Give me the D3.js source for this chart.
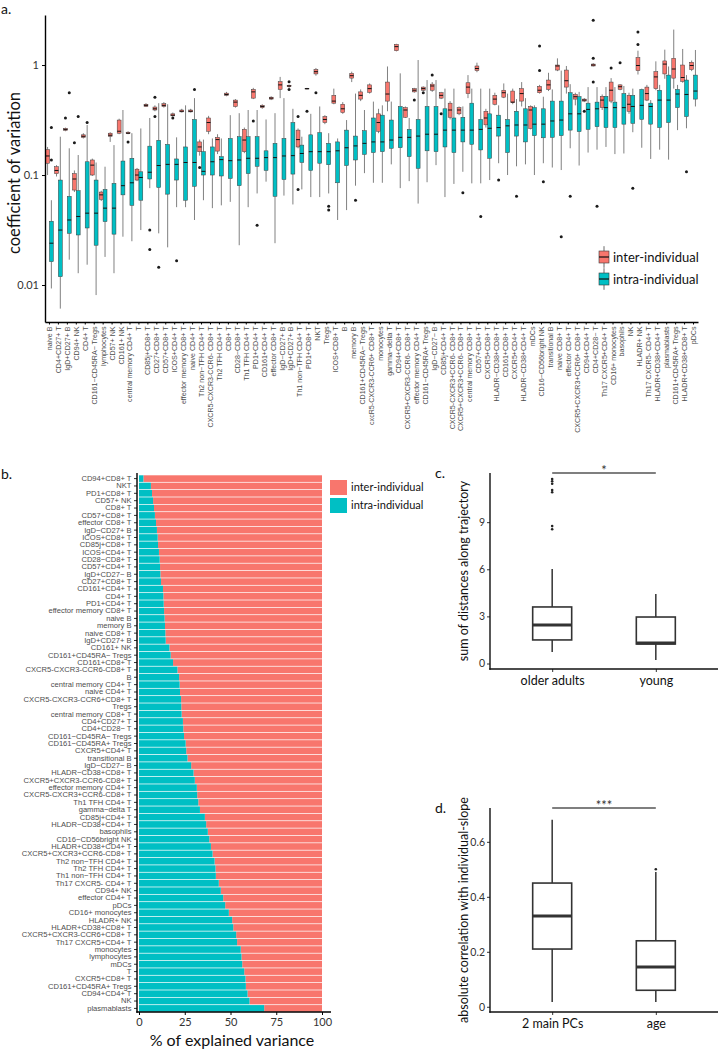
<!DOCTYPE html>
<html><head><meta charset="utf-8">
<script src="https://cdn.jsdelivr.net/npm/d3@7"></script>
<style>body{margin:0;background:#fff}svg{display:block}</style>
</head><body><svg id="chart" width="721" height="1050"></svg>
<script>
// ---------- Panel a data ----------
const cellTypesA = ["naive B","CD4+CD27+ T","IgD+CD27+ B","CD94+ NK","CD4+ T","CD161\u2212CD45RA\u2212 Tregs","lymphocytes","CD57+ NK","CD161+ NK","central memory CD4+ T","T","CD85j+CD8+ T","CD27+CD8+ T","CD57+CD8+ T","ICOS+CD4+ T","effector memory CD8+ T","naive CD4+ T","Th2 non\u2212TFH CD4+ T","CXCR5-CXCR3-CCR6- CD8+ T","Th2 TFH CD4+ T","CD8+ T","CD28\u2212CD8+ T","Th1 TFH CD4+ T","PD1+CD4+ T","CD161+CD4+ T","effector CD8+ T","IgD\u2212CD27+ B","IgD+CD27+ B ","Th1 non\u2212TFH CD4+ T","PD1+CD8+ T","NKT","Tregs","ICOS+CD8+ T","B","memory B","CD161+CD45RA\u2212 Tregs","cxcR5-CXCR3-CCR6+ CD8+ T","monocytes","gamma\u2212delta T","CD94+CD8+ T","CXCR5+CXCR3-CCR6- CD8+ T","effector memory CD4+ T","CD161\u2212CD45RA+ Tregs","IgD\u2212CD27\u2212 B","CD85j+CD4+ T","CXCR5-CXCR3+CCR6- CD8+ T","CXCR5+CXCR3+CCR6- CD8+ T","central memory CD8+ T","CD57+CD4+ T","CXCR5+CD8+ T","HLADR\u2212CD38+CD8+ T","CD161+CD8+ T","CXCR5+CD4+ T","HLADR\u2212CD38+CD4+ T","mDCs","CD16\u2212CD56bright NK","transitional B","naive CD8+ T","effector CD4+ T","CXCR5+CXCR3+CCR6+ CD8+ T","CD94+CD4+ T","CD4+CD28\u2212 T","Th17 CXCR5+CD4+ T","CD16+ monocytes","basophils","NK","HLADR+ NK","Th17 CXCR5- CD4+ T","HLADR+CD38+CD4+ T","plasmablasts","CD161+CD45RA+ Tregs","HLADR+CD38+CD8+ T","pDCs"];
// [lower whisker, q1, median, q3, upper whisker]
const interStats = [[0.10,0.128,0.149,0.17,0.18],[0.097,0.103,0.11,0.119,0.123],[0.25,0.255,0.26,0.265,0.27],[0.07,0.073,0.092,0.103,0.11],[0.215,0.22,0.225,0.232,0.24],[0.098,0.1,0.123,0.137,0.141],[0.058,0.06,0.066,0.07,0.072],[0.2,0.225,0.23,0.24,0.245],[0.235,0.24,0.25,0.316,0.325],[0.235,0.238,0.24,0.245,0.25],[0.088,0.09,0.1,0.113,0.116],[0.415,0.42,0.43,0.44,0.45],[0.38,0.39,0.40,0.415,0.43],[0.41,0.42,0.43,0.445,0.46],[0.34,0.345,0.35,0.36,0.37],[0.37,0.375,0.38,0.39,0.4],[0.37,0.375,0.38,0.39,0.4],[0.15,0.163,0.18,0.2,0.21],[0.235,0.25,0.3,0.33,0.345],[0.155,0.165,0.21,0.22,0.235],[0.52,0.53,0.54,0.555,0.57],[0.41,0.42,0.46,0.48,0.49],[0.158,0.163,0.208,0.26,0.27],[0.49,0.5,0.57,0.6,0.62],[0.40,0.41,0.42,0.43,0.44],[0.48,0.49,0.5,0.51,0.52],[0.5,0.6,0.66,0.705,0.78],[0.62,0.635,0.645,0.655,0.665],[0.175,0.18,0.21,0.256,0.265],[0.6,0.605,0.61,0.615,0.62],[0.8,0.83,0.87,0.91,0.94],[0.29,0.3,0.32,0.34,0.35],[0.44,0.45,0.47,0.53,0.61],[0.36,0.37,0.40,0.44,0.46],[0.7,0.76,0.8,0.84,0.87],[0.47,0.49,0.53,0.57,0.6],[0.55,0.565,0.61,0.66,0.68],[0.24,0.25,0.3,0.36,0.4],[0.38,0.47,0.545,0.7,0.97],[1.33,1.35,1.47,1.54,1.56],[0.33,0.335,0.39,0.41,0.42],[0.56,0.57,0.59,0.61,0.62],[0.58,0.59,0.61,0.63,0.64],[0.57,0.59,0.645,0.67,0.7],[0.49,0.5,0.53,0.56,0.57],[0.32,0.335,0.39,0.45,0.47],[0.35,0.36,0.39,0.41,0.42],[0.5,0.55,0.63,0.69,0.81],[0.86,0.89,0.93,0.98,1.05],[0.27,0.286,0.33,0.38,0.4],[0.43,0.44,0.49,0.53,0.56],[0.5,0.51,0.56,0.59,0.68],[0.44,0.455,0.46,0.58,0.61],[0.42,0.47,0.55,0.61,0.7],[0.26,0.265,0.39,0.42,0.43],[0.55,0.56,0.59,0.64,0.66],[0.58,0.6,0.66,0.73,0.85],[0.88,0.9,0.98,1.0,1.15],[0.55,0.63,0.72,0.9,0.98],[0.43,0.49,0.515,0.54,0.56],[0.46,0.47,0.48,0.49,0.5],[0.97,0.98,1.0,1.02,1.04],[0.39,0.41,0.48,0.52,0.54],[0.45,0.47,0.59,0.7,0.76],[0.59,0.6,0.635,0.66,0.67],[0.36,0.38,0.44,0.53,0.56],[0.82,0.89,0.99,1.17,1.35],[0.47,0.48,0.55,0.63,0.66],[0.59,0.61,0.78,0.87,1.08],[0.75,0.83,1.02,1.09,1.38],[0.61,0.76,0.92,1.15,2.1],[0.69,0.71,0.77,1.0,1.4],[0.88,0.91,0.99,1.06,1.1]];
const intraStats = [[0.0093,0.0163,0.024,0.038,0.059],[0.0061,0.0119,0.0316,0.09,0.223],[0.017,0.0295,0.039,0.064,0.175],[0.0128,0.0285,0.042,0.072,0.152],[0.0153,0.033,0.045,0.132,0.285],[0.0081,0.023,0.045,0.09,0.13],[0.018,0.0377,0.05,0.074,0.119],[0.0128,0.029,0.05,0.084,0.187],[0.0275,0.066,0.08,0.134,0.39],[0.025,0.053,0.085,0.142,0.24],[0.0316,0.059,0.095,0.107,0.265],[0.076,0.092,0.106,0.183,0.33],[0.0295,0.077,0.122,0.207,0.45],[0.022,0.067,0.125,0.19,0.44],[0.051,0.09,0.125,0.14,0.22],[0.051,0.059,0.13,0.18,0.43],[0.039,0.079,0.13,0.32,0.50],[0.059,0.1,0.108,0.163,0.21],[0.05,0.1,0.132,0.18,0.215],[0.053,0.098,0.138,0.147,0.215],[0.057,0.093,0.135,0.215,0.35],[0.023,0.08,0.137,0.223,0.365],[0.051,0.103,0.142,0.223,0.39],[0.068,0.12,0.142,0.223,0.39],[0.087,0.11,0.144,0.166,0.32],[0.024,0.064,0.144,0.194,0.365],[0.065,0.091,0.149,0.215,0.5],[0.054,0.102,0.15,0.30,0.40],[0.074,0.13,0.157,0.187,0.223],[0.063,0.11,0.163,0.232,0.36],[0.063,0.128,0.163,0.243,0.42],[0.068,0.124,0.163,0.194,0.24],[0.039,0.085,0.166,0.2,0.215],[0.048,0.122,0.177,0.256,0.316],[0.08,0.137,0.184,0.226,0.55],[0.104,0.154,0.194,0.253,0.39],[0.085,0.16,0.2,0.33,0.465],[0.085,0.163,0.2,0.35,0.43],[0.125,0.175,0.208,0.316,0.465],[0.076,0.177,0.22,0.42,0.84],[0.088,0.147,0.22,0.26,0.33],[0.055,0.115,0.226,0.32,1.11],[0.086,0.166,0.235,0.42,0.73],[0.123,0.163,0.235,0.42,0.73],[0.063,0.18,0.256,0.4,0.61],[0.083,0.16,0.256,0.33,0.61],[0.107,0.2,0.256,0.335,0.42],[0.084,0.19,0.256,0.45,0.61],[0.084,0.169,0.26,0.32,0.61],[0.09,0.142,0.266,0.36,0.61],[0.128,0.226,0.27,0.35,0.43],[0.1,0.16,0.28,0.32,0.55],[0.12,0.226,0.285,0.38,0.49],[0.125,0.2,0.285,0.4,0.5],[0.1,0.228,0.29,0.41,0.43],[0.128,0.218,0.29,0.4,0.515],[0.117,0.22,0.31,0.47,0.6],[0.111,0.228,0.316,0.47,0.89],[0.175,0.256,0.36,0.56,0.67],[0.122,0.248,0.36,0.516,0.57],[0.16,0.26,0.395,0.45,0.63],[0.17,0.275,0.4,0.46,0.63],[0.18,0.27,0.41,0.52,0.63],[0.155,0.27,0.41,0.46,0.63],[0.157,0.29,0.41,0.55,0.645],[0.245,0.295,0.42,0.53,0.61],[0.177,0.32,0.43,0.6,0.61],[0.14,0.29,0.42,0.45,0.48],[0.17,0.27,0.48,0.59,0.66],[0.138,0.3,0.48,0.81,0.97],[0.256,0.41,0.545,0.6,0.66],[0.266,0.34,0.54,0.73,0.81],[0.42,0.49,0.58,0.81,1.37]];
// outliers: [category index, value]
const interOutliers = [[2,0.33],[3,0.197],[9,0.2],[12,0.51],[12,0.34],[14,0.33],[17,0.117],[23,0.31],[27,0.705],[27,0.6],[28,0.34],[28,0.074],[29,0.38],[30,0.56],[41,0.48],[42,0.56],[43,0.81],[44,0.36],[55,0.89],[55,1.49],[60,0.38],[61,1.15],[61,0.7],[61,2.55],[63,0.94],[64,1.05],[66,2.0],[66,1.54]];
const intraOutliers = [[0,0.27],[0,0.137],[2,0.56],[3,0.34],[4,0.30],[11,0.0316],[11,0.021],[12,0.0145],[14,0.0166],[16,0.6],[23,0.035],[31,0.052],[31,0.048],[34,0.059],[46,0.069],[48,0.042],[50,0.09],[52,0.064],[55,0.087],[57,0.0275],[58,0.064],[61,0.052],[65,0.076],[71,0.107]];
const yTicksA = [0.01, 0.1, 1];
const seriesNames = ["inter-individual","intra-individual"];

// ---------- Panel b data ----------
const cellTypesB = ["CD94+CD8+ T","NKT","PD1+CD8+ T","CD57+ NK","CD8+ T","CD57+CD8+ T","effector CD8+ T","IgD\u2212CD27+ B","ICOS+CD8+ T","CD85j+CD8+ T","ICOS+CD4+ T","CD28\u2212CD8+ T","CD57+CD4+ T","IgD+CD27\u2212 B","CD27+CD8+ T","CD161+CD4+ T","CD4+ T","PD1+CD4+ T","effector memory CD8+ T","naive B","memory B","naive CD8+ T","IgD+CD27+ B","CD161+ NK","CD161+CD45RA\u2212 Tregs","CD161+CD8+ T","CXCR5-CXCR3-CCR6-CD8+ T","B","central memory CD4+ T","naive CD4+ T","CXCR5-CXCR3-CCR6+CD8+ T","Tregs","central memory CD8+ T","CD4+CD27+ T","CD4+CD28\u2212 T","CD161\u2212CD45RA\u2212 Tregs","CD161\u2212CD45RA+ Tregs","CXCR5+CD4+ T","transitional B","IgD\u2212CD27\u2212 B","HLADR\u2212CD38+CD8+ T","CXCR5+CXCR3-CCR6-CD8+ T","effector memory CD4+ T","CXCR5-CXCR3+CCR6-CD8+ T","Th1 TFH CD4+ T","gamma\u2212delta T","CD85j+CD4+ T","HLADR\u2212CD38+CD4+ T","basophils","CD16\u2212CD56bright NK","HLADR+CD38+CD4+ T","CXCR5+CXCR3+CCR6-CD8+ T","Th2 non\u2212TFH CD4+ T","Th2 TFH CD4+ T","Th1 non\u2212TFH CD4+ T","Th17 CXCR5- CD4+ T","CD94+ NK","effector CD4+ T","pDCs","CD16+ monocytes","HLADR+ NK","HLADR+CD38+CD8+ T","CXCR5+CXCR3-CCR6+CD8+ T","Th17 CXCR5+CD4+ T","monocytes","lymphocytes","mDCs","T","CXCR5+CD8+ T","CD161+CD45RA+ Tregs","CD94+CD4+ T","NK","plasmablasts"];
const intraPctB = [2.4,6.5,7.1,7.7,8.2,8.7,9.3,9.8,10.2,10.4,10.9,11.3,11.5,11.7,12.0,13.1,13.3,13.5,13.7,14.0,14.2,14.4,14.6,16.6,17.3,18.6,21.0,21.9,22.2,22.4,23.0,23.1,23.3,24.0,24.2,24.6,25.5,25.8,26.5,28.5,29.8,30.5,31.6,31.8,32.4,33.3,36.0,36.7,37.6,38.4,39.3,40.2,41.3,41.8,42.0,43.6,44.7,46.0,47.1,49.1,50.9,51.5,53.1,53.6,55.6,56.0,56.4,57.5,58.2,58.4,59.3,60.4,68.4];
const xTicksB = [0,25,50,75,100];

// ---------- Panels c, d data ----------
const groupsC = ["older adults","young"];
const statsC = [[0.73,1.5,2.45,3.6,6.02],[0.22,1.24,1.31,2.96,4.43]];
const outliersC = [["older adults",11.75],["older adults",11.6],["older adults",11.45],["older adults",11.05],["older adults",10.9],["older adults",8.75],["older adults",8.55]];
const yTicksC = [0,3,6,9];
const groupsD = ["2 main PCs","age"];
const statsD = [[0.017,0.21,0.33,0.45,0.68],[0.017,0.06,0.145,0.24,0.49]];
const outliersD = [["age",0.5]];
const yTicksD = [0,0.2,0.4,0.6];

// ---------- drawing ----------
const PINK = "#F8766D", TEAL = "#00BFC4";
const FT = "Lato, 'Open Sans', sans-serif";
const FA = "'Liberation Sans', Arial, sans-serif";
const svg = d3.select("#chart");

function boxplot(g, cx, w, s, y, o) {
  const [lo,q1,med,q3,hi] = s;
  g.append("line").attr("x1",cx).attr("x2",cx).attr("y1",y(hi)).attr("y2",y(q3))
    .attr("stroke",o.wc).attr("stroke-width",o.ww);
  g.append("line").attr("x1",cx).attr("x2",cx).attr("y1",y(q1)).attr("y2",y(lo))
    .attr("stroke",o.wc).attr("stroke-width",o.ww);
  g.append("rect").attr("x",cx-w/2).attr("y",y(q3)).attr("width",w)
    .attr("height",Math.max(0.8,y(q1)-y(q3))).attr("fill",o.fill)
    .attr("stroke",o.sc).attr("stroke-width",o.sw);
  g.append("line").attr("x1",cx-w/2).attr("x2",cx+w/2).attr("y1",y(med)).attr("y2",y(med))
    .attr("stroke",o.mc).attr("stroke-width",o.mw);
}
function styleAxis(ax, col, w) {
  ax.selectAll(".domain").attr("stroke",col).attr("stroke-width",w);
  ax.selectAll(".tick line").attr("stroke",col).attr("stroke-width",Math.min(w,1));
}

// ===== Panel a =====
const xa = d3.scaleBand().domain(cellTypesA).range([45, 698]);
const ya = d3.scaleLog().domain([0.00461, 2.85]).range([322, 15]);
const ga = svg.append("g");
const bw = 3.9, off = 1.9;
cellTypesA.forEach((c,i) => {
  const cx = xa(c) + xa.bandwidth()/2;
  boxplot(ga, cx-off, bw, interStats[i], ya, {fill:PINK, sc:"#3a3a3a", sw:0.5, wc:"#4a4a4a", ww:0.7, mc:"#111", mw:1});
  boxplot(ga, cx+off, bw, intraStats[i], ya, {fill:TEAL, sc:"#3a3a3a", sw:0.5, wc:"#4a4a4a", ww:0.7, mc:"#111", mw:1});
});
ga.selectAll("circle.oi").data(interOutliers).enter().append("circle")
  .attr("cx", d => xa(cellTypesA[d[0]]) + xa.bandwidth()/2 - off).attr("cy", d => ya(d[1]))
  .attr("r",1.5).attr("fill","#1a1a1a");
ga.selectAll("circle.oj").data(intraOutliers).enter().append("circle")
  .attr("cx", d => xa(cellTypesA[d[0]]) + xa.bandwidth()/2 + off).attr("cy", d => ya(d[1]))
  .attr("r",1.5).attr("fill","#1a1a1a");

const axAy = svg.append("g").attr("transform","translate(45,0)")
  .call(d3.axisLeft(ya).tickValues(yTicksA).tickFormat(d => String(d)).tickSize(3).tickSizeOuter(0).tickPadding(3));
axAy.selectAll("text").attr("font-family",FT).attr("font-size",11).attr("fill","#333");
styleAxis(axAy,"#000",1.4);
const axAx = svg.append("g").attr("transform","translate(0,322)")
  .call(d3.axisBottom(xa).tickSize(2.5).tickSizeOuter(0).tickPadding(2));
styleAxis(axAx,"#000",1.6);
axAx.selectAll("text").attr("font-family",FA).attr("font-size",7.1).attr("fill","#4d4d4d")
  .attr("text-anchor","end").attr("transform","rotate(-90)").attr("x",-4.5).attr("y",0).attr("dy","0.35em");
svg.append("text").attr("transform","translate(20,173) rotate(-90)").attr("text-anchor","middle")
  .attr("font-family",FT).attr("font-size",16.5).attr("fill","#111").text("coefficient of variation");
svg.append("text").attr("x",1).attr("y",14).attr("font-family",FT).attr("font-size",14).attr("fill","#111").text("a.");
// legend a
const legA = svg.append("g");
seriesNames.forEach((n,k) => {
  const cy = 257 + k*22;
  const ly = d3.scaleLinear().domain([0,1]).range([cy+6, cy-6]);
  boxplot(legA, 604, 10, [-0.4,0,0.5,1,1.4], ly, {fill:k?TEAL:PINK, sc:"#3a3a3a", sw:0.6, wc:"#444", ww:0.8, mc:"#111", mw:1.2});
  legA.append("text").attr("x",613).attr("y",cy).attr("dy","0.35em").attr("font-family",FT)
    .attr("font-size",13).attr("fill","#111").text(n);
});

// ===== Panel b =====
const yb = d3.scaleBand().domain(cellTypesB).range([475, 1012]).paddingInner(0.1).paddingOuter(0.04);
const xb = d3.scaleLinear().domain([0,100]).range([139, 322]);
const gb = svg.append("g");
gb.selectAll("rect.p").data(cellTypesB).enter().append("rect")
  .attr("x",(d,i)=>xb(intraPctB[i])).attr("y",d=>yb(d)).attr("height",yb.bandwidth())
  .attr("width",(d,i)=>xb(100)-xb(intraPctB[i])).attr("fill",PINK);
gb.selectAll("rect.t").data(cellTypesB).enter().append("rect")
  .attr("x",xb(0)).attr("y",d=>yb(d)).attr("height",yb.bandwidth())
  .attr("width",(d,i)=>xb(intraPctB[i])-xb(0)).attr("fill",TEAL);
const axBy = svg.append("g").attr("transform","translate(137,0)")
  .call(d3.axisLeft(yb).tickSize(3).tickSizeOuter(0).tickPadding(2.5));
axBy.select(".domain").remove();
axBy.selectAll(".tick line").attr("stroke","#333");
axBy.selectAll("text").attr("font-family",FA).attr("font-size",7.6).attr("fill","#4d4d4d");
svg.append("line").attr("x1",137).attr("x2",137).attr("y1",473).attr("y2",1012.7).attr("stroke","#000").attr("stroke-width",1.4);
const axBx = svg.append("g").attr("transform","translate(0,1012)")
  .call(d3.axisBottom(xb).tickValues(xTicksB).tickSize(3).tickSizeOuter(0).tickPadding(3.5));
axBx.select(".domain").remove();
axBx.selectAll(".tick line").attr("stroke","#000");
axBx.selectAll("text").attr("font-family",FT).attr("font-size",11).attr("fill","#333");
svg.append("line").attr("x1",136.3).attr("x2",331).attr("y1",1012).attr("y2",1012).attr("stroke","#000").attr("stroke-width",1.4);
svg.append("text").attr("x",232).attr("y",1046).attr("text-anchor","middle").attr("font-family",FT)
  .attr("font-size",16).attr("fill","#111").text("% of explained variance");
svg.append("text").attr("x",1).attr("y",479).attr("font-family",FT).attr("font-size",14).attr("fill","#111").text("b.");
seriesNames.forEach((n,k) => {
  svg.append("rect").attr("x",330).attr("y",480+k*18).attr("width",17).attr("height",15).attr("fill",k?TEAL:PINK);
  svg.append("text").attr("x",351).attr("y",487.5+k*18).attr("dy","0.35em").attr("font-family",FT)
    .attr("font-size",11).attr("fill","#111").text(n);
});

// ===== Panels c, d =====
function smallPanel(groups, stats, outs, ticks, yDom, yTop, yBot, title, stars, letter) {
  const x = d3.scalePoint().domain(groups).range([490, 718]).padding(0.6);
  const y = d3.scaleLinear().domain(yDom).range([yBot, yTop]);
  const g = svg.append("g");
  groups.forEach((gname,i) => {
    boxplot(g, x(gname), 39, stats[i], y, {fill:"#fff", sc:"#333", sw:1.6, wc:"#333", ww:1.5, mc:"#333", mw:3});
  });
  g.selectAll("circle").data(outs).enter().append("circle")
    .attr("cx",d=>x(d[0])).attr("cy",d=>y(d[1])).attr("r",1.3).attr("fill","#222");
  const ay = svg.append("g").attr("transform","translate(490,0)")
    .call(d3.axisLeft(y).tickValues(ticks).tickFormat(d=>String(d)).tickSize(3).tickSizeOuter(0).tickPadding(2));
  ay.select(".domain").remove();
  ay.selectAll(".tick line").attr("stroke","#333");
  ay.selectAll("text").attr("font-family",FT).attr("font-size",10.5).attr("fill","#333");
  const ax = svg.append("g").attr("transform",`translate(0,${yBot})`)
    .call(d3.axisBottom(x).tickSize(3).tickSizeOuter(0).tickPadding(4));
  ax.select(".domain").remove();
  ax.selectAll(".tick line").attr("stroke","#333");
  ax.selectAll("text").attr("font-family",FT).attr("font-size",12.5).attr("fill","#111");
  svg.append("line").attr("x1",490).attr("x2",490).attr("y1",yTop).attr("y2",yBot+0.7).attr("stroke","#111").attr("stroke-width",1.4);
  svg.append("line").attr("x1",489.3).attr("x2",718).attr("y1",yBot).attr("y2",yBot).attr("stroke","#111").attr("stroke-width",1.4);
  // significance bar
  svg.append("line").attr("x1",x(groups[0])).attr("x2",x(groups[1])).attr("y1",yTop).attr("y2",yTop)
    .attr("stroke","#555").attr("stroke-width",1.4);
  svg.append("text").attr("x",(x(groups[0])+x(groups[1]))/2).attr("y",yTop+2).attr("text-anchor","middle")
    .attr("font-family",FT).attr("font-size",13).attr("fill","#333").text(stars);
  svg.append("text").attr("transform",`translate(468,${(yTop+yBot)/2}) rotate(-90)`).attr("text-anchor","middle")
    .attr("font-family",FT).attr("font-size",12.5).attr("fill","#111").text(title);
  svg.append("text").attr("x",435).attr("y",yTop+5).attr("font-family",FT).attr("font-size",14).attr("fill","#111").text(letter);
}
smallPanel(groupsC, statsC, outliersC, yTicksC, [-0.35, 12.13], 473, 669, "sum of distances along trajectory", "*", "c.");
smallPanel(groupsD, statsD, outliersD, yTicksD, [-0.019, 0.723], 808, 1012, "absolute correlation with individual-slope", "***", "d.");
</script></body></html>
